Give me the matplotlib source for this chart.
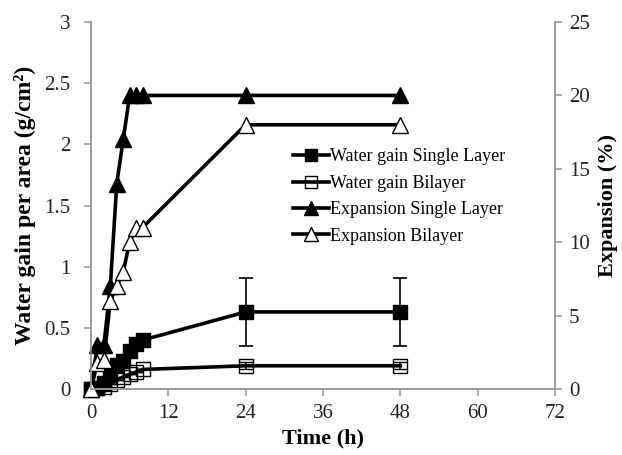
import numpy as np
import matplotlib.pyplot as plt
from matplotlib.lines import Line2D

plt.rcParams['font.family'] = ['Liberation Serif', 'DejaVu Serif']

# sampling times in hours
time = [0, 1, 2, 3, 4, 5, 6, 7, 8, 24, 48]

# water gain per area (g/cm2)
wg_single = [0, 0.01, 0.05, 0.12, 0.2, 0.23, 0.31, 0.37, 0.4, 0.63, 0.63]
wg_single_err = [0, 0, 0, 0, 0, 0, 0, 0, 0, 0.28, 0.28]
wg_bilayer = [0, 0.005, 0.02, 0.04, 0.07, 0.1, 0.12, 0.14, 0.16, 0.19, 0.19]
wg_bilayer_err = [0, 0, 0, 0, 0, 0, 0, 0, 0, 0.03, 0.03]

# expansion (%)
exp_single = [0, 3, 3, 7, 14, 17, 20, 20, 20, 20, 20]
exp_bilayer = [0, 1.8, 2, 6, 7, 8, 10, 11, 11, 18, 18]

fig = plt.figure(figsize=(6.22, 4.55), dpi=100)
ax = fig.add_axes([0.1463, 0.145, 0.746, 0.8066])
ax2 = ax.twinx()

lw = 2.6
eb1 = ax.errorbar(time, wg_single, yerr=wg_single_err, color='black', lw=lw, marker='s',
                  ms=9.5, mfc='black', mec='black', ecolor='black', elinewidth=1.2,
                  capsize=5, capthick=1.2)
# open squares without fill, the line shows through like in the original sheet
eb2 = ax.errorbar(time, wg_bilayer, yerr=wg_bilayer_err, color='black', lw=lw, marker='s',
                  ms=9.5, mfc='none', mec='black', mew=1.0, ecolor='black', elinewidth=1.2,
                  capsize=5, capthick=1.2)
for eb in (eb1, eb2):
    eb[0].set_clip_on(False)
ax2.plot(time, exp_single, color='black', lw=lw, marker='^', ms=11, mfc='black',
         mec='black', clip_on=False)
ax2.plot(time, exp_bilayer, color='black', lw=lw, marker='^', ms=11, mfc='white',
         mec='black', mew=1.0, clip_on=False)

ax.set_xlim(0, 72)
ax.set_ylim(0, 3)
ax2.set_ylim(0, 25)
ax.set_xticks(np.arange(0, 73, 12))
ax.set_yticks(np.arange(0, 3.01, 0.5))
ax.set_yticklabels(['0', '0.5', '1', '1.5', '2', '2.5', '3'])
ax2.set_yticks(np.arange(0, 26, 5))

grey = '#999999'
for a in (ax, ax2):
    a.spines['top'].set_visible(False)
    for s in ('left', 'right', 'bottom'):
        a.spines[s].set_color(grey)
        a.spines[s].set_linewidth(1.2)
    a.tick_params(colors=grey, labelcolor='#222222', labelsize=15, length=5, width=1.2, pad=5)
ax.tick_params(axis='y', pad=10)
ax.tick_params(axis='x', pad=6)

ax.set_xlabel('Time (h)', fontsize=16, fontweight='bold', labelpad=4)
ax.set_ylabel('Water gain per area (g/cm²)', fontsize=17, fontweight='bold', labelpad=6)
ax2.set_ylabel('Expansion (%)', fontsize=16, fontweight='bold', labelpad=6)

handles = [
    Line2D([], [], color='black', lw=lw, marker='s', ms=8.5, mfc='black', mec='black'),
    Line2D([], [], color='black', lw=lw, marker='s', ms=8.5, mfc='none', mec='black', mew=1.0),
    Line2D([], [], color='black', lw=lw, marker='^', ms=9.5, mfc='black', mec='black'),
    Line2D([], [], color='black', lw=lw, marker='^', ms=9.5, mfc='white', mec='black', mew=1.0),
]
labels = ['Water gain Single Layer', 'Water gain Bilayer',
          'Expansion Single Layer', 'Expansion Bilayer']
ax2.legend(handles, labels, loc='upper left', bbox_to_anchor=(0.415, 0.68), frameon=False,
           fontsize=13, handlelength=2.0, handletextpad=0.05, labelspacing=0.52, borderpad=0)

fig.savefig('out.png', dpi=100)
